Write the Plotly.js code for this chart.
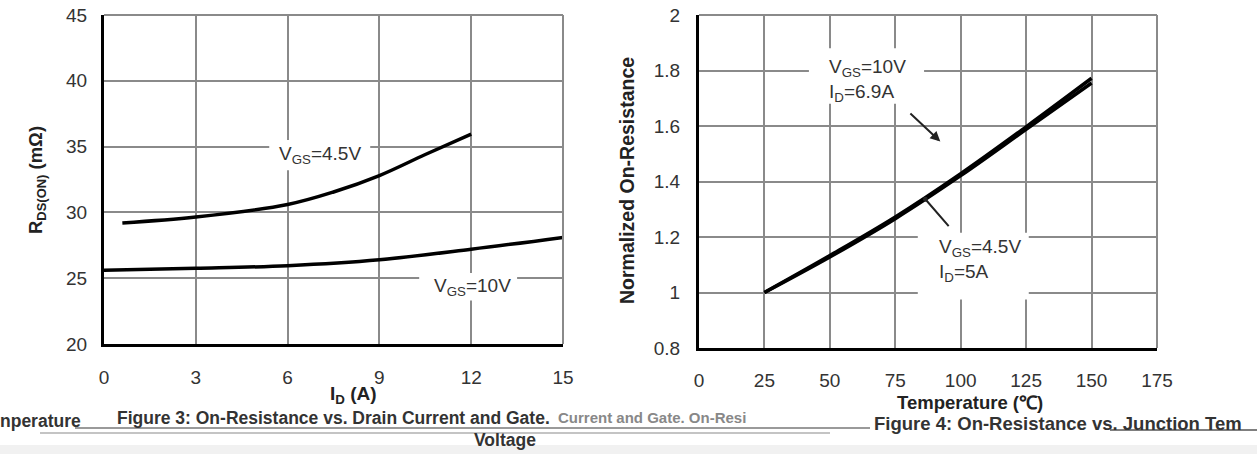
<!DOCTYPE html>
<html><head><meta charset="utf-8">
<script src="https://cdn.plot.ly/plotly-3.0.1.min.js"></script>
<style>html,body{margin:0;padding:0;background:#fff}#chart{width:1257px;height:454px}</style>
</head><body><div id="chart"></div><script>
// ---- data ----
const idTicks = [0, 3, 6, 9, 12, 15];
const rdsTicks = [20, 25, 30, 35, 40, 45];
const tempTicks = [0, 25, 50, 75, 100, 125, 150, 175];
const normTicks = [0.8, 1, 1.2, 1.4, 1.6, 1.8, 2];
const normTickText = ['0.8', '1', '1.2', '1.4', '1.6', '1.8', '2'];

const id45 = [0.6, 3, 6, 7.5, 9, 10.5, 12];
const rds45 = [29.2, 29.65, 30.6, 31.55, 32.8, 34.4, 35.95];
const id10 = [0, 3, 6, 9, 12, 15];
const rds10 = [25.6, 25.75, 25.95, 26.4, 27.2, 28.1];

const temp = [25, 50, 75, 100, 125, 150];
const norm10 = [1.0, 1.133, 1.272, 1.428, 1.597, 1.772];
const norm45 = [1.0, 1.128, 1.266, 1.421, 1.588, 1.755];

// ---- helpers ----
const W = 1257, H = 454;
const px = v => v / W;
const py = v => 1 - v / H;
const FONT = 'Liberation Sans, Arial, sans-serif';
const GRID = '#8a8a8a';

const traces = [
  {x: id45, y: rds45, xaxis: 'x', yaxis: 'y', mode: 'lines', line: {color: '#000', width: 3.5, shape: 'spline'}, name: 'VGS=4.5V'},
  {x: id10, y: rds10, xaxis: 'x', yaxis: 'y', mode: 'lines', line: {color: '#000', width: 3.5, shape: 'spline'}, name: 'VGS=10V'},
  {x: temp, y: norm10, xaxis: 'x2', yaxis: 'y2', mode: 'lines', line: {color: '#000', width: 3.5, shape: 'spline'}, name: 'VGS=10V ID=6.9A'},
  {x: temp, y: norm45, xaxis: 'x2', yaxis: 'y2', mode: 'lines', line: {color: '#000', width: 3.5, shape: 'spline'}, name: 'VGS=4.5V ID=5A'}
];

function axis(extra) {
  return Object.assign({
    showgrid: true, gridcolor: GRID, gridwidth: 2,
    showline: true, linecolor: '#000', linewidth: 3,
    zeroline: false, ticks: '', fixedrange: true,
    tickfont: {family: FONT, size: 19, color: '#333'}
  }, extra);
}

function ann(o) {
  return Object.assign({xanchor: 'center', yanchor: 'middle', showarrow: false}, o);
}

const layout = {
  width: W, height: H,
  margin: {l: 0, r: 0, t: 0, b: 0},
  paper_bgcolor: '#fff', plot_bgcolor: '#fff',
  showlegend: false,
  font: {family: FONT, color: '#333'},
  xaxis: axis({domain: [px(104), px(563)], range: [0, 15], tickvals: idTicks, ticklabelstandoff: 14, anchor: 'y'}),
  yaxis: axis({domain: [py(344), py(15)], range: [20, 45], tickvals: rdsTicks, ticklabelstandoff: 10, anchor: 'x'}),
  xaxis2: axis({domain: [px(699), px(1157)], range: [0, 175], tickvals: tempTicks, ticklabelstandoff: 13, anchor: 'y2'}),
  yaxis2: axis({domain: [py(348), py(15)], range: [0.8, 2], tickvals: normTicks, ticktext: normTickText, ticklabelstandoff: 12, anchor: 'x2'}),
  shapes: [
    // top / right borders (gray)
    {type: 'line', xref: 'x domain', yref: 'y domain', x0: 0, x1: 1, y0: 1, y1: 1, line: {color: GRID, width: 2}},
    {type: 'line', xref: 'x domain', yref: 'y domain', x0: 1, x1: 1, y0: 0, y1: 1, line: {color: GRID, width: 2}},
    {type: 'line', xref: 'x2 domain', yref: 'y2 domain', x0: 0, x1: 1, y0: 1, y1: 1, line: {color: GRID, width: 2}},
    {type: 'line', xref: 'x2 domain', yref: 'y2 domain', x0: 1, x1: 1, y0: 0, y1: 1, line: {color: GRID, width: 2}},
    // white label boxes
    {type: 'rect', layer: 'between', xref: 'x', yref: 'y', x0: 5.4, x1: 8.7, y0: 33.2, y1: 35.5, fillcolor: '#fff', line: {width: 0}},
    {type: 'rect', layer: 'between', xref: 'x', yref: 'y', x0: 10.3, x1: 13.5, y0: 23.3, y1: 25.4, fillcolor: '#fff', line: {width: 0}},
    {type: 'rect', layer: 'between', xref: 'x2', yref: 'y2', x0: 42, x1: 86, y0: 1.68, y1: 1.88, fillcolor: '#fff', line: {width: 0}},
    {type: 'rect', layer: 'between', xref: 'x2', yref: 'y2', x0: 83.6, x1: 126, y0: 0.975, y1: 1.215, fillcolor: '#fff', line: {width: 0}},
    // caption rules
    {type: 'line', xref: 'paper', yref: 'paper', x0: px(75), x1: px(870), y0: py(428), y1: py(428), line: {color: '#9a9a9a', width: 2}},
    {type: 'line', xref: 'paper', yref: 'paper', x0: px(40), x1: px(830), y0: py(433), y1: py(433), line: {color: '#c4c4c4', width: 2}},
    {type: 'line', xref: 'paper', yref: 'paper', x0: px(1110), x1: px(1257), y0: py(430), y1: py(430), line: {color: '#555', width: 1.5}},
    // bottom gray band
    {type: 'rect', xref: 'paper', yref: 'paper', x0: 0, x1: 1, y0: 0, y1: py(445), fillcolor: '#f1f1f1', line: {width: 0}}
  ],
  annotations: [
    // axis titles
    ann({xref: 'paper', yref: 'paper', x: px(37), y: py(180), text: '<b>R<sub>DS(ON)</sub> (mΩ)</b>', textangle: -90, font: {family: FONT, size: 18.5, color: '#222'}}),
    ann({xref: 'paper', yref: 'paper', x: px(627), y: py(181), text: '<b>Normalized On-Resistance</b>', textangle: -90, font: {family: FONT, size: 19.5, color: '#222'}}),
    ann({xref: 'paper', yref: 'paper', x: px(353), y: py(395), text: '<b>I<sub>D</sub> (A)</b>', font: {family: FONT, size: 19, color: '#222'}}),
    ann({xref: 'paper', yref: 'paper', x: px(970), y: py(402), text: '<b>Temperature (℃)</b>', font: {family: FONT, size: 18.5, color: '#222'}}),
    // curve labels
    ann({xref: 'x', yref: 'y', x: 7.06, y: 34.35, text: 'V<sub>GS</sub>=4.5V', font: {family: FONT, size: 19, color: '#333'}}),
    ann({xref: 'x', yref: 'y', x: 12.03, y: 24.3, text: 'V<sub>GS</sub>=10V', font: {family: FONT, size: 19, color: '#333'}}),
    ann({xref: 'x2', yref: 'y2', x: 49, y: 1.765, xanchor: 'left', align: 'left', text: 'V<sub>GS</sub>=10V<br>I<sub>D</sub>=6.9A', font: {family: FONT, size: 19, color: '#333'}}),
    ann({xref: 'x2', yref: 'y2', x: 91, y: 1.117, xanchor: 'left', align: 'left', text: 'V<sub>GS</sub>=4.5V<br>I<sub>D</sub>=5A', font: {family: FONT, size: 19, color: '#333'}}),
    // arrows
    {xref: 'x2', yref: 'y2', axref: 'x2', ayref: 'y2', x: 92.2, y: 1.544, ax: 80.2, ay: 1.65, text: '', showarrow: true, arrowhead: 2, arrowsize: 1, arrowwidth: 2, arrowcolor: '#222'},
    {xref: 'x2', yref: 'y2', axref: 'x2', ayref: 'y2', x: 86.5, y: 1.336, ax: 95.9, ay: 1.234, text: '', showarrow: true, arrowhead: 6, arrowsize: 0.6, arrowwidth: 2, arrowcolor: '#222'},
    // captions
    ann({xref: 'paper', yref: 'paper', x: px(115), y: py(418), xanchor: 'left', text: '<b>Figure 3: On-Resistance vs. Drain Current and Gate.</b>', font: {family: FONT, size: 17.5, color: '#333'}}),
    ann({xref: 'paper', yref: 'paper', x: px(556), y: py(417), xanchor: 'left', text: '<b>Current and Gate. On-Resi</b>', font: {family: FONT, size: 15, color: '#888'}}),
    ann({xref: 'paper', yref: 'paper', x: px(505), y: py(440), text: '<b>Voltage</b>', font: {family: FONT, size: 17.5, color: '#333'}}),
    ann({xref: 'paper', yref: 'paper', x: px(-2), y: py(421), xanchor: 'left', text: '<b>nperature</b>', font: {family: FONT, size: 17.5, color: '#333'}}),
    ann({xref: 'paper', yref: 'paper', x: px(872), y: py(423), xanchor: 'left', text: '<b>Figure 4: On-Resistance vs. Junction Tem</b>', font: {family: FONT, size: 18.5, color: '#333'}})
  ]
};

Plotly.newPlot('chart', traces, layout, {displayModeBar: false, staticPlot: true});
</script></body></html>
